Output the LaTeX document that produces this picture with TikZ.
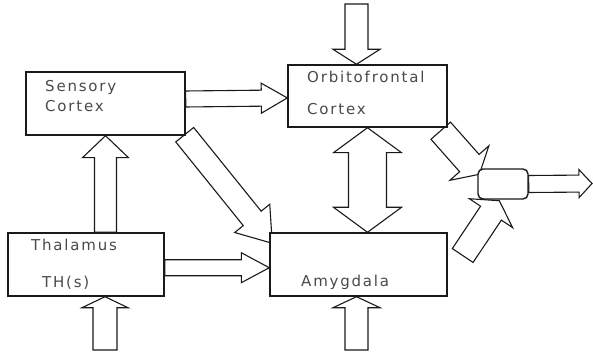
\documentclass[tikz,border=0pt]{standalone}
\usepackage{fontspec}
\usepackage{tikz}
\usetikzlibrary{calc,backgrounds}
\newfontfamily\lblfont[LetterSpace=12]{DejaVu Sans}
\definecolor{brLine}{HTML}{1A1A1A}
\definecolor{brText}{HTML}{4A4A4A}
% hollow block arrow: shaft half-width, head half-width, head length, from, to
\newcommand{\fatarrow}[5]{%
  \coordinate (fa) at (#4);
  \coordinate (fb) at (#5);
  \coordinate (fh) at ($(fb)!#3pt!(fa)$);
  \draw[fatline] ($(fa)!#1pt!90:(fb)$) -- ($(fh)!#1pt!90:(fb)$) -- ($(fh)!#2pt!90:(fb)$) -- (fb)
    -- ($(fh)!#2pt!-90:(fb)$) -- ($(fh)!#1pt!-90:(fb)$) -- ($(fa)!#1pt!-90:(fb)$) -- cycle;
}
% same, with a head at both ends
\newcommand{\fatdarrow}[5]{%
  \coordinate (fa) at (#4);
  \coordinate (fb) at (#5);
  \coordinate (fh) at ($(fb)!#3pt!(fa)$);
  \coordinate (fg) at ($(fa)!#3pt!(fb)$);
  \draw[fatline] (fa) -- ($(fg)!#2pt!-90:(fa)$) -- ($(fg)!#1pt!-90:(fa)$)
    -- ($(fh)!#1pt!90:(fb)$) -- ($(fh)!#2pt!90:(fb)$) -- (fb)
    -- ($(fh)!#2pt!-90:(fb)$) -- ($(fh)!#1pt!-90:(fb)$)
    -- ($(fg)!#1pt!90:(fa)$) -- ($(fg)!#2pt!90:(fa)$) -- cycle;
}

\begin{document}
\begin{tikzpicture}[
  x=1pt, y=-1pt,
  region/.style={draw=brLine, line width=1.4pt, fill=white, inner sep=0pt},
  junction/.style={region, rounded corners=5pt},
  lbl/.style={font=\lblfont\fontsize{15}{18}\selectfont, text=brText, inner sep=0pt, anchor=mid west},
  fatline/.style={draw=brLine, line width=1.1pt, fill=white, line join=miter},
]
\useasboundingbox (0,0) rectangle (593,352);

% ── Regions ────────────────────────────────────────────────────────────────
\node[region, minimum width=159pt, minimum height=63pt] (sens) at (105.5,103.5) {};
\node[region, minimum width=159pt, minimum height=62pt] (orb)  at (367.5,96) {};
\node[region, minimum width=156pt, minimum height=63pt] (thal) at (86,264.5) {};
\node[region, minimum width=177pt, minimum height=63pt] (amyg) at (358.5,264.5) {};
\node[junction, minimum width=50pt, minimum height=30pt] (junc) at (503,184) {};

% ── Labels ─────────────────────────────────────────────────────────────────
\node[lbl] (sens1) at (45,89) {Sensory};
\node[lbl] (sens2) at (45,109) {Cortex};
\node[lbl] (orb1)  at (307,80) {Orbitofrontal};
\node[lbl] (orb2)  at (307,112) {Cortex};
\node[lbl] (thal1) at (31,248) {Thalamus};
\node[lbl] (thal2) at (42,285) {TH(s)};
\node[lbl] (amyg1) at (301,284) {Amygdala};

% ── Free ends ──────────────────────────────────────────────────────────────
\coordinate (orbin)  at (356.5,4);
\coordinate (thalin) at (105,350);
\coordinate (amygin) at (356.5,350);
\coordinate (out)    at (592,183.5);

% ── Block arrows ───────────────────────────────────────────────────────────
\begin{scope}[on background layer]
  \fatarrow{11.5}{23.5}{15}{orbin}{orbin |- orb.north}
  \fatarrow{8}{15}{26}{$(sens.north east)!.43!(sens.south east)$}{$(orb.north west)!.53!(orb.south west)$}
  \fatarrow{11}{23}{22}{sens.south |- thal.north}{sens.south}
  \fatarrow{12}{23}{11}{thalin}{thalin |- thal.south}
  \fatarrow{8}{15}{28}{$(thal.north east)!.55!(thal.south east)$}{$(amyg.north west)!.55!(amyg.south west)$}
  \fatarrow{11.5}{22.5}{32}{$(sens.south east)+(-1,-1)$}{$(amyg.north west)+(3,11)$}
  \fatdarrow{19}{34}{25}{orb.south}{orb.south |- amyg.north}
  \fatarrow{11.5}{23.5}{11}{amygin}{amygin |- amyg.south}
  \fatarrow{13}{26}{15}{$(orb.south east)+(-7,3)$}{$(junc.north west)+(2,6)$}
  \fatarrow{12.5}{26}{15}{$(amyg.east)+(15,-9)$}{$(junc.south west)+(22,1)$}
  \fatarrow{8.5}{14}{13}{junc.east}{out}
\end{scope}
\end{tikzpicture}
\end{document}
